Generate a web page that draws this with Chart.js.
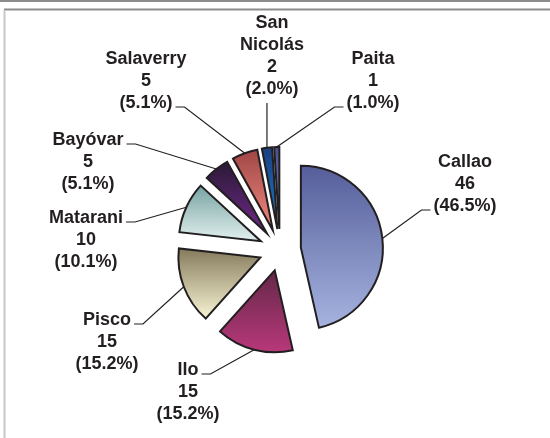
<!DOCTYPE html>
<html>
<head>
<meta charset="utf-8">
<script src="https://cdn.jsdelivr.net/npm/chart.js@4.4.1/dist/chart.umd.min.js"></script>
<style>
  body { margin: 0; background: #fff; }
  canvas { display: block; }
</style>
</head>
<body>
<canvas id="chart" width="550" height="438"></canvas>
<script>
// ships per port
const ports = ['Callao', 'Ilo', 'Pisco', 'Matarani', 'Bayóvar', 'Salaverry', 'San Nicolás', 'Paita'];
const ships = [46, 15, 15, 10, 5, 5, 2, 1];

// slice gradients: top colour, bottom colour
const topColors = ['#555e9a', '#642848', '#857b5c', '#77a3a3', '#2a1a36', '#a04646', '#1a3f80', '#465090'];
const bottomColors = ['#a6b3df', '#b8387a', '#f8f4d4', '#e2f0ee', '#70288a', '#f28a80', '#1a7ccc', '#8c96cc'];

// label block centre relative to pie centre, and where the leader joins the text
const labelSpots = [
  [185, -66, 'last', 'left'],
  [-92, 142, 'first', 'right'],
  [-173, 92, 'first', 'right'],
  [-194, -10, 'first', 'right'],
  [-192, -88, 'first', 'right'],
  [-134, -169, 'last', 'right'],
  [-8, -194, 'bottom', ''],
  [93, -169, 'last', 'left']
];

const EXPLODE = 21;
const LINE_H = 22;
const INK = '#231f20';

const frame = {
  id: 'frame',
  beforeDraw(chart) {
    const ctx = chart.ctx;
    ctx.save();
    ctx.fillStyle = '#fff';
    ctx.fillRect(0, 0, chart.width, chart.height);
    ctx.lineWidth = 2;
    ctx.strokeStyle = '#8c8c8c';
    ctx.beginPath();
    ctx.moveTo(0, 1);
    ctx.lineTo(chart.width, 1);
    ctx.moveTo(4, 9.5);
    ctx.lineTo(chart.width, 9.5);
    ctx.stroke();
    ctx.strokeStyle = '#c8c8c8';
    ctx.beginPath();
    ctx.moveTo(4.5, 10);
    ctx.lineTo(4.5, chart.height);
    ctx.stroke();
    ctx.restore();
  }
};

// pull every slice out from the centre by the same distance
const explode = {
  id: 'explode',
  afterDatasetUpdate(chart, args) {
    chart.getDatasetMeta(args.index).data.forEach(arc => {
      const mid = (arc.startAngle + arc.endAngle) / 2;
      arc.x += Math.cos(mid) * EXPLODE;
      arc.y += Math.sin(mid) * EXPLODE;
    });
  }
};

// vertical gradient over each slice
const shade = {
  id: 'shade',
  beforeDatasetsDraw(chart) {
    const ctx = chart.ctx;
    chart.getDatasetMeta(0).data.forEach((arc, i) => {
      let minY = arc.y, maxY = arc.y;
      for (let s = 0; s <= 60; s++) {
        const a = arc.startAngle + (arc.endAngle - arc.startAngle) * s / 60;
        const y = arc.y + Math.sin(a) * arc.outerRadius;
        minY = Math.min(minY, y);
        maxY = Math.max(maxY, y);
      }
      const g = ctx.createLinearGradient(0, minY, 0, maxY);
      g.addColorStop(0, topColors[i]);
      g.addColorStop(1, bottomColors[i]);
      arc.options = Object.assign({}, arc.options, { backgroundColor: g });
    });
  }
};

const labels = {
  id: 'labels',
  afterDatasetsDraw(chart) {
    const ctx = chart.ctx;
    const meta = chart.getDatasetMeta(0);
    const total = ships.reduce((a, b) => a + b, 0);
    const cx = (chart.chartArea.left + chart.chartArea.right) / 2;
    const cy = (chart.chartArea.top + chart.chartArea.bottom) / 2;
    ctx.save();
    ctx.font = 'bold 18px "Liberation Sans", Arial, sans-serif';
    ctx.fillStyle = INK;
    ctx.strokeStyle = INK;
    ctx.lineWidth = 1.2;
    ctx.textAlign = 'center';
    ctx.textBaseline = 'middle';
    meta.data.forEach((arc, i) => {
      const lines = ports[i].split(' ').concat([String(ships[i]), '(' + (ships[i] / total * 100).toFixed(1) + '%)']);
      const spot = labelSpots[i];
      const x = cx + spot[0];
      const top = cy + spot[1] - (lines.length - 1) * LINE_H / 2;
      lines.forEach((t, k) => ctx.fillText(t, x, top + k * LINE_H));

      const mid = (arc.startAngle + arc.endAngle) / 2;
      const px = arc.x + Math.cos(mid) * arc.outerRadius;
      const py = arc.y + Math.sin(mid) * arc.outerRadius;
      ctx.beginPath();
      ctx.moveTo(px, py);
      if (spot[2] === 'bottom') {
        ctx.lineTo(px, top + (lines.length - 1) * LINE_H + 14);
      } else {
        const k = spot[2] === 'first' ? 0 : lines.length - 1;
        const w = ctx.measureText(lines[k]).width;
        const ly = top + k * LINE_H + 4;
        const dir = spot[3] === 'left' ? -1 : 1;
        const edge = x + dir * (w / 2 + 3);
        ctx.lineTo(edge + dir * 9, ly);
        ctx.lineTo(edge, ly);
      }
      ctx.stroke();
    });
    ctx.restore();
  }
};

new Chart(document.getElementById('chart'), {
  type: 'pie',
  data: {
    labels: ports,
    datasets: [{
      data: ships,
      backgroundColor: topColors.slice(),
      borderColor: INK,
      borderWidth: 2,
      borderJoinStyle: 'miter',
      radius: 82
    }]
  },
  options: {
    responsive: false,
    animation: false,
    layout: { padding: { left: 20, right: 10, top: 72, bottom: 10 } },
    plugins: {
      legend: { display: false },
      tooltip: { enabled: false }
    }
  },
  plugins: [frame, explode, shade, labels]
});
</script>
</body>
</html>
